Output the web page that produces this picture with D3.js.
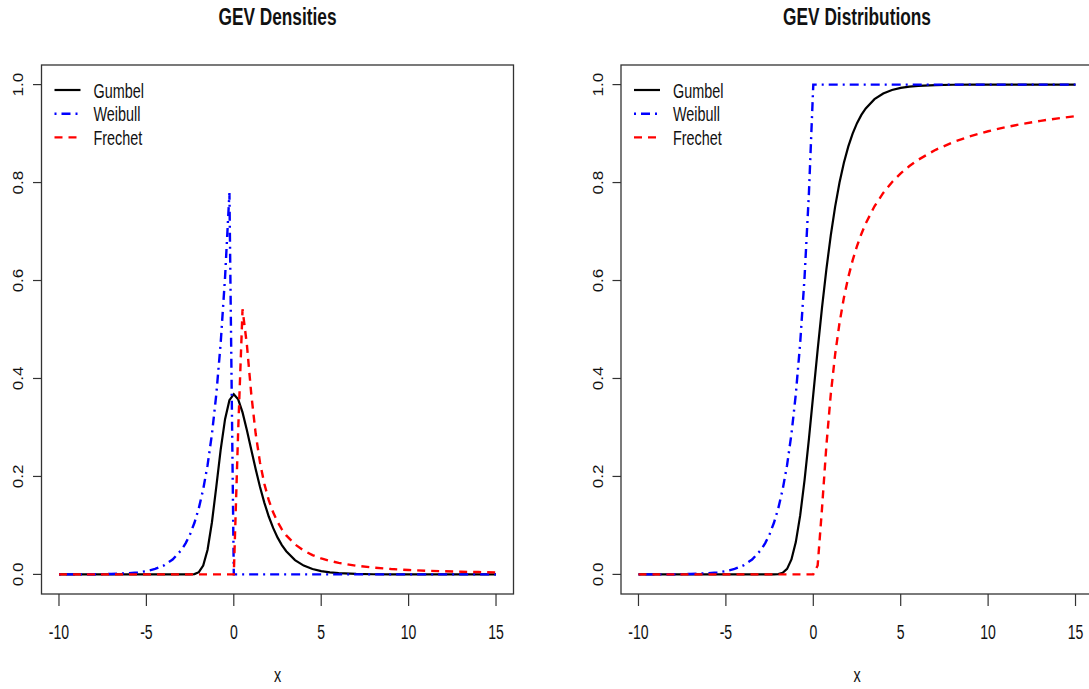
<!DOCTYPE html>
<html>
<head>
<meta charset="utf-8">
<script src="https://cdn.jsdelivr.net/npm/d3@7"></script>
<style>
  body { margin: 0; background: #fff; }
  text { font-family: "Liberation Sans", Arial, sans-serif; fill: #111; }
</style>
</head>
<body>
<svg id="chart" width="1089" height="689"></svg>
<script>
// x grid the curves were sampled on
var xs = [-10,-9,-8,-7,-6,-5.5,-5,-4.5,-4,-3.5,-3,-2.75,-2.5,-2.25,-2,-1.75,-1.5,-1.25,-1,-0.75,-0.5,-0.25,
          0,0.25,0.5,0.75,1,1.25,1.5,1.75,2,2.25,2.5,2.75,3,3.5,4,4.5,5,5.5,6,7,8,9,10,11,12,13,14,15];

// densities
var gumbelPdf = [0,0,0,0,0,0,0,0,0,0,0,0,0.0001,0.0007,0.0046,0.0182,0.0505,0.1065,0.1794,0.2549,0.3170,0.3556,
                 0.3679,0.3575,0.3307,0.2945,0.2546,0.2151,0.1785,0.1461,0.1182,0.0949,0.0756,0.0599,0.0474,
                 0.0293,0.0180,0.0110,0.0067,0.0041,0.0025,0.0009,0.0003,0.0001,0,0,0,0,0,0];
var weibullPdf = [0,0.0001,0.0003,0.0009,0.0025,0.0041,0.0067,0.0111,0.0183,0.0302,0.0498,0.0639,0.0821,0.1054,
                  0.1353,0.1738,0.2231,0.2865,0.3679,0.4724,0.6065,0.7788,
                  0,0,0,0,0,0,0,0,0,0,0,0,0,0,0,0,0,0,0,0,0,0,0,0,0,0,0,0];
var frechetPdf = [0,0,0,0,0,0,0,0,0,0,0,0,0,0,0,0,0,0,0,0,0,0,
                  0,0.2930,0.5413,0.4686,0.3679,0.2876,0.2282,0.1844,0.1516,0.1267,0.1073,0.0919,0.0796,
                  0.0613,0.0487,0.0395,0.0327,0.0276,0.0235,0.0177,0.0138,0.0110,0.0090,0.0075,0.0064,0.0055,0.0048,0.0042];

// distribution functions
var gumbelCdf = [0,0,0,0,0,0,0,0,0,0,0,0,0,0.0001,0.0006,0.0032,0.0113,0.0305,0.0660,0.1204,0.1923,0.2769,
                 0.3679,0.4590,0.5452,0.6235,0.6922,0.7509,0.8000,0.8405,0.8734,0.9000,0.9212,0.9381,0.9514,
                 0.9702,0.9819,0.9890,0.9933,0.9959,0.9975,0.9991,0.9997,0.9999,1,1,1,1,1,1];
var weibullCdf = [0,0.0001,0.0003,0.0009,0.0025,0.0041,0.0067,0.0111,0.0183,0.0302,0.0498,0.0639,0.0821,0.1054,
                  0.1353,0.1738,0.2231,0.2865,0.3679,0.4724,0.6065,0.7788,
                  1,1,1,1,1,1,1,1,1,1,1,1,1,1,1,1,1,1,1,1,1,1,1,1,1,1,1,1];
var frechetCdf = [0,0,0,0,0,0,0,0,0,0,0,0,0,0,0,0,0,0,0,0,0,0,
                  0,0.0183,0.1353,0.2636,0.3679,0.4493,0.5134,0.5647,0.6065,0.6412,0.6703,0.6951,0.7165,
                  0.7515,0.7788,0.8007,0.8187,0.8338,0.8465,0.8669,0.8825,0.8948,0.9048,0.9131,0.9200,0.9260,0.9311,0.9355];

var seriesNames = ["Gumbel", "Weibull", "Frechet"];
var seriesColors = ["#000000", "#0000ff", "#ff0000"];
var seriesDash = [null, "2,5,9,5", "8,6"];
var seriesWidth = [2.2, 2.4, 2.4];
var xTicks = [-10, -5, 0, 5, 10, 15];
var yTicks = [0, 0.2, 0.4, 0.6, 0.8, 1.0];
var titles = ["GEV Densities", "GEV Distributions"];

var SX = 0.72; // the picture's text is narrow

var svg = d3.select("#chart");

function drawPanel(left, title, data) {
  var top = 65, bottom = 594, right = left + 472;
  // R pads the data range by 4% each side
  var x = d3.scaleLinear().domain([-11, 16]).range([left, right]);
  var y = d3.scaleLinear().domain([-0.04, 1.04]).range([bottom, top]);
  var g = svg.append("g");
  var mid = (left + right) / 2;

  g.append("text")
    .attr("transform", "translate(" + mid + ",25) scale(" + SX + ",1)")
    .attr("text-anchor", "middle")
    .style("font-weight", "bold")
    .style("font-size", "24px")
    .text(title);

  // curves
  var line = d3.line().x(function(d) { return x(d[0]); }).y(function(d) { return y(d[1]); });
  data.forEach(function(vals, i) {
    g.append("path")
      .datum(xs.map(function(v, k) { return [v, vals[k]]; }))
      .attr("d", line)
      .attr("fill", "none")
      .attr("stroke", seriesColors[i])
      .attr("stroke-width", seriesWidth[i])
      .attr("stroke-dasharray", seriesDash[i]);
  });

  // box
  g.append("rect")
    .attr("x", left).attr("y", top)
    .attr("width", right - left).attr("height", bottom - top)
    .attr("fill", "none").attr("stroke", "#333").attr("stroke-width", 1.3);

  // x axis
  xTicks.forEach(function(t) {
    g.append("line").attr("x1", x(t)).attr("x2", x(t)).attr("y1", bottom).attr("y2", bottom + 12)
      .attr("stroke", "#333").attr("stroke-width", 1.2);
    g.append("text")
      .attr("transform", "translate(" + x(t) + ",639) scale(" + SX + ",1)")
      .attr("text-anchor", "middle").style("font-size", "19.5px")
      .text(t);
  });
  g.append("text")
    .attr("transform", "translate(" + mid + ",682) scale(" + SX + ",1)")
    .attr("text-anchor", "middle").style("font-size", "20px")
    .text("x");

  // y axis
  yTicks.forEach(function(t) {
    g.append("line").attr("x1", left - 8.5).attr("x2", left).attr("y1", y(t)).attr("y2", y(t))
      .attr("stroke", "#333").attr("stroke-width", 1.2);
    g.append("text")
      .attr("transform", "translate(" + (left - 18.5) + "," + y(t) + ") rotate(-90) scale(1.1,1)")
      .attr("text-anchor", "middle").style("font-size", "15.5px")
      .text(d3.format(".1f")(t));
  });

  // legend
  seriesNames.forEach(function(name, i) {
    var ly = 90 + i * 23.7;
    g.append("line")
      .attr("x1", left + 13).attr("x2", left + 39).attr("y1", ly).attr("y2", ly)
      .attr("stroke", seriesColors[i]).attr("stroke-width", seriesWidth[i])
      .attr("stroke-dasharray", seriesDash[i]);
    g.append("text")
      .attr("transform", "translate(" + (left + 52) + "," + (ly + 7.5) + ") scale(" + SX + ",1)")
      .style("font-size", "20px")
      .text(name);
  });
}

drawPanel(41.5, titles[0], [gumbelPdf, weibullPdf, frechetPdf]);
drawPanel(621, titles[1], [gumbelCdf, weibullCdf, frechetCdf]);
</script>
</body>
</html>
